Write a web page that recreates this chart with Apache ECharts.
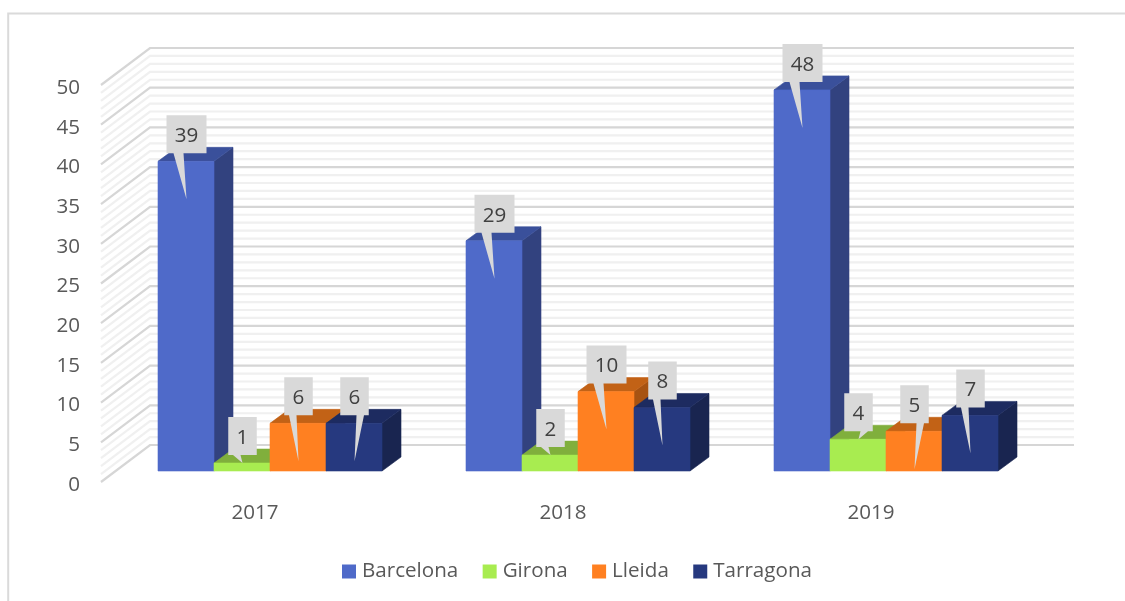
<!DOCTYPE html>
<html>
<head>
<meta charset="utf-8">
<style>html,body{margin:0;padding:0;background:#fff}#c{width:1125px;height:601px}</style>
<script src="https://cdn.jsdelivr.net/npm/echarts@6/dist/echarts.min.js"></script>
</head>
<body>
<div id="c"></div>
<script>
const years = ['2017', '2018', '2019'];
const barcelona = [39, 29, 48];
const girona = [1, 2, 4];
const lleida = [6, 10, 5];
const tarragona = [6, 8, 7];
const regions = ['Barcelona', 'Girona', 'Lleida', 'Tarragona'];
const gridLevels = [0,1,2,3,4,5,6,7,8,9,10,11,12,13,14,15,16,17,18,19,20,21,22,23,24,25,26,27,28,29,30,31,32,33,34,35,36,37,38,39,40,41,42,43,44,45,46,47,48,49,50];

// styles
const faces = [
  {front: '#4F6AC9', top: '#3A509B', side: '#32427F'},
  {front: '#A8EC50', top: '#80AF3C', side: '#6C9432'},
  {front: '#FF8021', top: '#C26216', side: '#A75312'},
  {front: '#26397F', top: '#1D2B60', side: '#192550'}
];
const pointerSides = [[-1, -1, -1], [-1, -1, 1], [-1, -1, 1], [1, -1, -1]];
const FONT = '"Open Sans", sans-serif';
const FONT_SIZE = 20.6;
const WALL_DX = 49, WALL_DY = -37;      // floor depth of the 3D box
const BAR_DX = 15, BAR_DY = -11;        // bars stand a little behind the front edge
const DEPTH_DX = 19, DEPTH_DY = -14;    // depth of each bar

function renderGridLine(params, api) {
  const level = api.value(1);
  const r = params.coordSys;
  const y = api.coord([0, level])[1];
  const major = level % 5 === 0;
  return {
    type: 'polyline',
    shape: {points: [[r.x, y], [r.x + WALL_DX, y + WALL_DY], [r.x + r.width + WALL_DX, y + WALL_DY]]},
    style: {fill: null, stroke: major ? '#D6D6D6' : '#F0F0F0', lineWidth: 2.2}
  };
}

function barGeometry(api, seriesIdx) {
  const band = api.size([1, 0])[0];
  const w = band / 5.5;
  const p = api.coord([api.value(0), api.value(1)]);
  const base = api.coord([api.value(0), 0]);
  const x = p[0] + BAR_DX - 2 * w + seriesIdx * w;
  return {x: x, w: w, top: p[1] + BAR_DY, bottom: base[1] + BAR_DY};
}

function makeBarRenderer(k) {
  return function (params, api) {
    const g = barGeometry(api, k);
    const c = faces[k];
    const x1 = g.x + g.w;
    const edge = 0.6;
    return {
      type: 'group',
      children: [
        {type: 'polygon', shape: {points: [[x1, g.top], [x1 + DEPTH_DX, g.top + DEPTH_DY], [x1 + DEPTH_DX, g.bottom + DEPTH_DY], [x1, g.bottom]]},
          style: {fill: c.side, stroke: c.side, lineWidth: edge}},
        {type: 'polygon', shape: {points: [[g.x, g.top], [g.x + DEPTH_DX, g.top + DEPTH_DY], [x1 + DEPTH_DX, g.top + DEPTH_DY], [x1, g.top]]},
          style: {fill: c.top, stroke: c.top, lineWidth: edge}},
        {type: 'rect', shape: {x: g.x, y: g.top, width: g.w, height: g.bottom - g.top},
          style: {fill: c.front, stroke: c.front, lineWidth: edge}}
      ]
    };
  };
}

function renderCallout(params, api) {
  const k = api.value(2);
  const value = api.value(1);
  const g = barGeometry(api, k);
  const label = String(value);
  const boxW = label.length > 1 ? 40 : 28.5;
  const boxH = 38;
  const cx = g.x + g.w / 2 + 0.5;
  const boxTop = g.top - 46;
  const boxBottom = boxTop + boxH;
  const side = pointerSides[k][api.value(0)];
  const tipY = value < 5 ? g.top : g.top + 38;
  const inner = label.length > 1 ? 3 : 2;
  const outer = label.length > 1 ? 13 : 9.5;
  const a = cx + side * inner, b = cx + side * outer;
  return {
    type: 'group',
    children: [
      {type: 'polygon', shape: {points: [
        [cx - boxW / 2, boxTop], [cx + boxW / 2, boxTop], [cx + boxW / 2, boxBottom],
        [Math.max(a, b), boxBottom], [cx, tipY], [Math.min(a, b), boxBottom],
        [cx - boxW / 2, boxBottom]
      ]}, style: {fill: '#D9D9D9'}},
      {type: 'text', style: {x: cx, y: boxTop + boxH / 2 + 2, text: label, fill: '#404040',
        font: FONT_SIZE + 'px ' + FONT, textAlign: 'center', textVerticalAlign: 'middle'}}
    ]
  };
}

const seriesValues = [barcelona, girona, lleida, tarragona];
const series = [{
  type: 'custom', name: 'grid', silent: true, z: 1, clip: false,
  data: gridLevels.map(v => [0, v]), encode: {x: 0, y: 1}, renderItem: renderGridLine
}];
regions.forEach((name, k) => series.push({
  type: 'custom', name: name, z: 2, clip: false, silent: true,
  itemStyle: {color: faces[k].front},
  data: seriesValues[k].map((v, i) => [i, v]),
  encode: {x: 0, y: 1}, renderItem: makeBarRenderer(k)
}));
const calloutRows = [];
seriesValues.forEach((vals, k) => vals.forEach((v, i) => calloutRows.push([i, v, k])));
series.push({
  type: 'custom', name: 'labels', silent: true, z: 5, clip: false,
  data: calloutRows, encode: {x: 0, y: 1}, renderItem: renderCallout
});

const chart = echarts.init(document.getElementById('c'), null, {renderer: 'canvas'});
chart.setOption({
  animation: false,
  backgroundColor: '#FFFFFF',
  tooltip: {show: false},
  graphic: [{
    type: 'polyline', silent: true,
    shape: {points: [[8.2, 601], [8.2, 13.5], [1125, 13.5]]},
    style: {fill: null, stroke: '#DADADA', lineWidth: 2}
  }],
  legend: {
    data: regions, left: 342, top: 561, padding: 0, icon: 'rect', itemWidth: 14, itemHeight: 14, itemGap: 24.4,
    selectedMode: false,
    textStyle: {fontFamily: FONT, fontSize: FONT_SIZE, color: '#595959', padding: [2, 0, 0, 1]}
  },
  grid: {left: 101, top: 85, width: 924, height: 397, containLabel: false},
  xAxis: {
    type: 'category', data: years, boundaryGap: true,
    axisLine: {show: false}, axisTick: {show: false}, splitLine: {show: false},
    axisLabel: {fontFamily: FONT, fontSize: FONT_SIZE, color: '#595959', margin: 21}
  },
  yAxis: {
    type: 'value', min: 0, max: 50, interval: 5,
    axisLine: {show: false}, axisTick: {show: false}, splitLine: {show: false},
    axisLabel: {fontFamily: FONT, fontSize: FONT_SIZE, color: '#595959', margin: 21, verticalAlign: 'top', lineHeight: 6}
  },
  series: series
});
</script>
</body>
</html>
